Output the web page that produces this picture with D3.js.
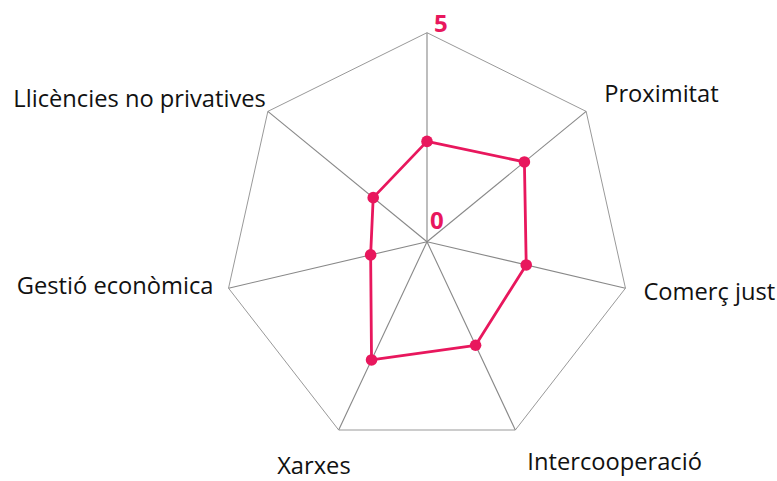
<!DOCTYPE html>
<html>
<head>
<meta charset="utf-8">
<script src="https://cdn.jsdelivr.net/npm/d3@7"></script>
<style>
  html, body { margin: 0; padding: 0; background: #fff; }
  svg { display: block; }
</style>
</head>
<body>
<div id="chart"></div>
<script>
// axes, clockwise from the top
const categories = [
  'Tema central', 'Proximitat', 'Comerç just', 'Intercooperació',
  'Xarxes', 'Gestió econòmica', 'Llicències no privatives'
];
const values = [2.4, 3.06, 2.5, 2.75, 3.14, 1.42, 1.69];
const scaleMin = 0;
const scaleMax = 5;
// which axis labels are shown (the top one carries the scale instead)
const showLabel = [false, true, true, true, true, true, true];

const width = 777, height = 481;
const cx = 427, cy = 241.7, R = 209, sx = 0.974;
const color = '#e8175d';

const svg = d3.select('#chart').append('svg')
  .attr('width', width).attr('height', height);

const n = categories.length;
const angle = d3.scaleLinear().domain([0, n]).range([-Math.PI / 2, 1.5 * Math.PI]);
const r = d3.scaleLinear().domain([scaleMin, scaleMax]).range([0, R]);
const pos = (i, v) => [cx + Math.cos(angle(i)) * r(v) * sx, cy + Math.sin(angle(i)) * r(v)];

const grid = svg.append('g').attr('class', 'grid');
// outer heptagon
grid.append('path')
  .attr('d', d3.line()(d3.range(n).map(i => pos(i, scaleMax))) + 'Z')
  .attr('fill', 'none').attr('stroke', '#999').attr('stroke-width', 1);
// spokes
grid.selectAll('line.spoke').data(d3.range(n)).join('line')
  .attr('class', 'spoke')
  .attr('x1', cx).attr('y1', cy)
  .attr('x2', i => pos(i, scaleMax)[0]).attr('y2', i => pos(i, scaleMax)[1])
  .attr('stroke', '#888').attr('stroke-width', 1.1);

// series
const pts = values.map((v, i) => pos(i, v));
svg.append('path')
  .attr('d', d3.line()(pts) + 'Z')
  .attr('fill', 'none').attr('stroke', color).attr('stroke-width', 2.8)
  .attr('stroke-linejoin', 'round');
svg.selectAll('circle.pt').data(pts).join('circle')
  .attr('class', 'pt')
  .attr('cx', d => d[0]).attr('cy', d => d[1]).attr('r', 5.8)
  .attr('fill', color);

// scale labels
svg.append('text').attr('x', pos(0, scaleMax)[0] + 7).attr('y', pos(0, scaleMax)[1] - 1)
  .attr('font-family', 'Open Sans, sans-serif').attr('font-weight', 700)
  .attr('font-size', 24).attr('fill', color).text(String(scaleMax));
svg.append('text').attr('x', cx + 3).attr('y', cy - 13)
  .attr('font-family', 'Open Sans, sans-serif').attr('font-weight', 700)
  .attr('font-size', 24).attr('fill', color).text(String(scaleMin));

// axis labels, nudged off each vertex
const labelOffsets = [
  [0, 0, 'middle'], [18, -9, 'start'], [18, 12, 'start'], [12, 40, 'start'],
  [12, 44, 'end'], [-15, 6, 'end'], [-2, -4, 'end']
];
svg.selectAll('text.axis').data(d3.range(n).filter(i => showLabel[i])).join('text')
  .attr('class', 'axis')
  .attr('x', i => pos(i, scaleMax)[0] + labelOffsets[i][0])
  .attr('y', i => pos(i, scaleMax)[1] + labelOffsets[i][1])
  .attr('text-anchor', i => labelOffsets[i][2])
  .attr('font-family', 'Open Sans, sans-serif')
  .attr('font-size', 23.7)
  .attr('fill', '#111')
  .text(i => categories[i]);
</script>
</body>
</html>
